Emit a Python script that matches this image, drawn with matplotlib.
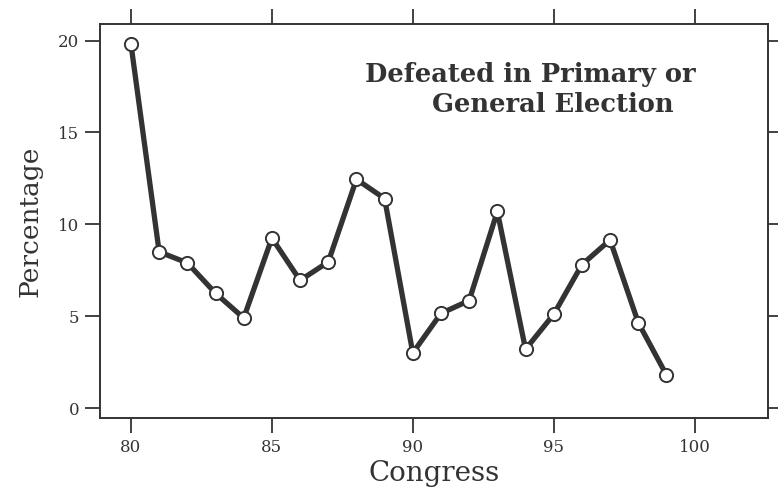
import matplotlib

matplotlib.use("Agg")

from matplotlib import pyplot as plt

CONGRESS = [80, 81, 82, 83, 84, 85, 86, 87, 88, 89, 90, 91, 92, 93, 94, 95, 96, 97, 98, 99]
DEFEATED_PCT = [19.8, 8.5, 7.9, 6.25, 4.9, 9.25, 6.95, 7.95, 12.45, 11.4,
                3.0, 5.15, 5.85, 10.7, 3.2, 5.1, 7.8, 9.15, 4.65, 1.8]
X_TICKS = [80, 85, 90, 95, 100]
Y_TICKS = [0, 5, 10, 15, 20]
TITLE_LINES = ["Defeated in Primary or", "General Election"]

INK = "#333333"

plt.rcParams["font.family"] = ["DejaVu Serif"]

figure = plt.figure(figsize=(7.78, 4.95), dpi=100)
axis = figure.add_axes([0.1285, 0.1556, 0.8585, 0.7959])

axis.plot(CONGRESS, DEFEATED_PCT, color=INK, linewidth=3.8, solid_joinstyle="round",
          marker="o", markersize=9.5, markerfacecolor="white", markeredgecolor=INK,
          markeredgewidth=1.4, zorder=3)

axis.set_xlim(78.9, 102.6)
axis.set_ylim(-0.54, 20.9)
axis.set_xticks(X_TICKS)
axis.set_yticks(Y_TICKS)
axis.tick_params(axis="both", direction="out", length=11, width=1.3, color=INK,
                 labelcolor=INK, labelsize=12, top=True, right=True, pad=4)
for spine in axis.spines.values():
    spine.set_color(INK)
    spine.set_linewidth(1.4)

axis.set_xlabel("Congress", fontsize=20, color=INK, labelpad=3)
axis.set_ylabel("Percentage", fontsize=19, color=INK, labelpad=11)

# two lines are offset slightly in the original, so place them separately
axis.text(0.644, 0.853, TITLE_LINES[0], transform=axis.transAxes, ha="center",
          va="baseline", fontsize=18.5, fontweight="bold", color=INK)
axis.text(0.678, 0.777, TITLE_LINES[1], transform=axis.transAxes, ha="center",
          va="baseline", fontsize=18.5, fontweight="bold", color=INK)

figure.savefig("out.png", dpi=100)
plt.close(figure)
